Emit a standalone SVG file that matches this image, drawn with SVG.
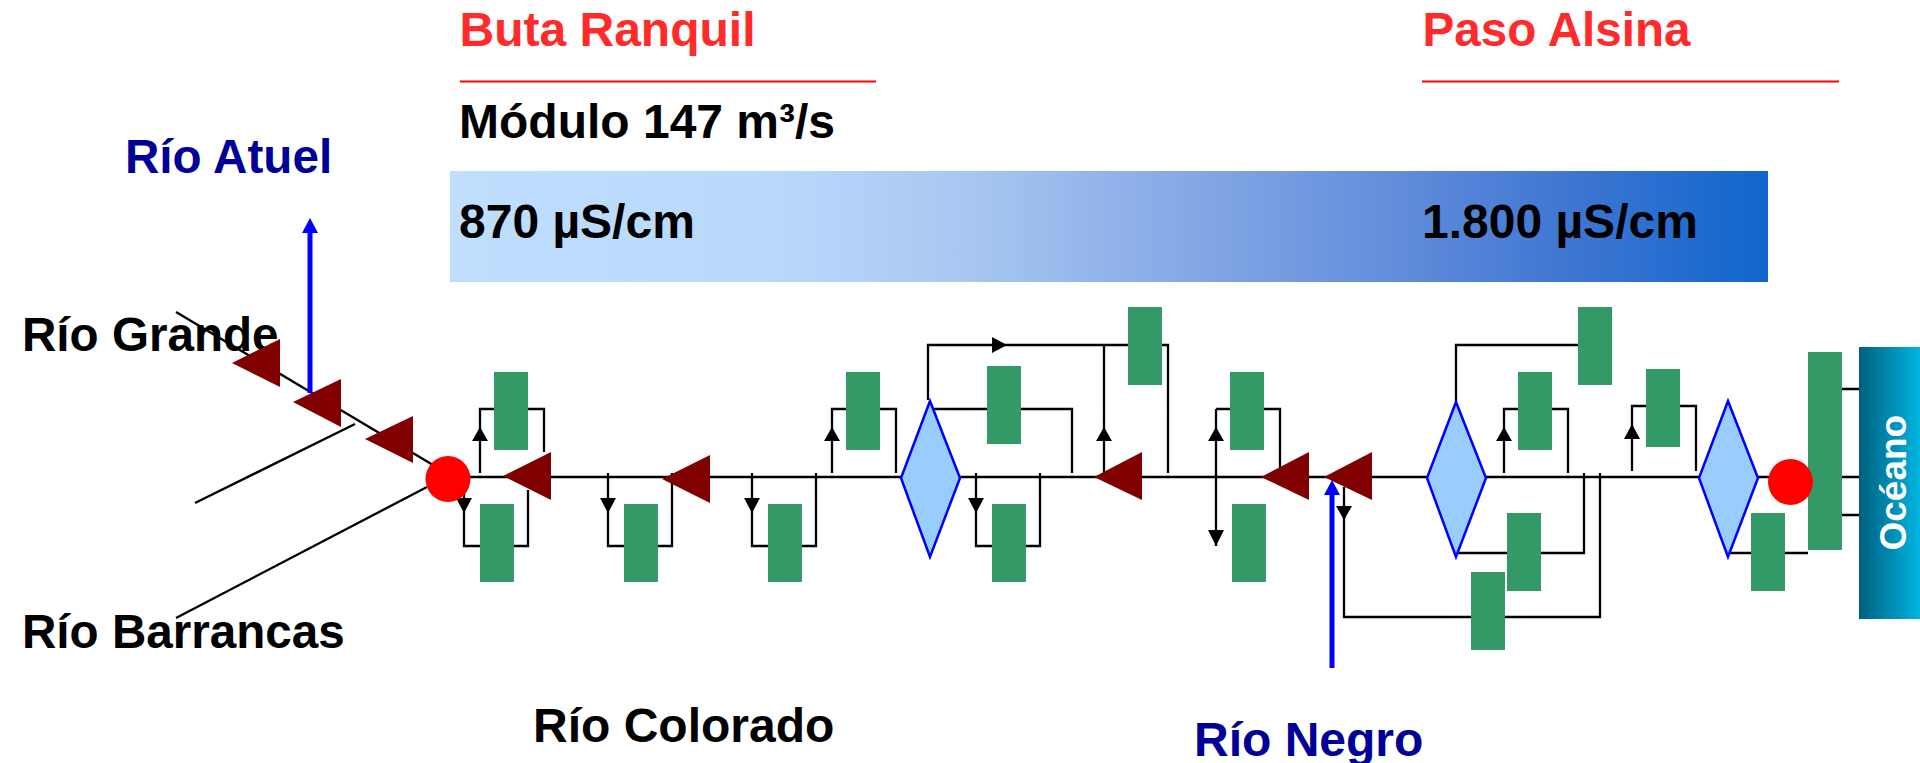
<svg xmlns="http://www.w3.org/2000/svg" width="1920" height="763" viewBox="0 0 1920 763">
<style>
.t{font-family:"Liberation Sans",Arial,sans-serif;font-weight:700;font-size:48px;fill:#000}
.red{fill:#ff2a2a}
.navy{fill:#000099}
.c{fill:none;stroke:#000;stroke-width:2.3}
.b{fill:#339966}
.tri{fill:#800000}
.d{fill:#99ccff;stroke:#0000ff;stroke-width:2.5}
.ah{fill:#000}
</style>
<defs>
<linearGradient id="g1" x1="0" x2="1" y1="0" y2="0">
<stop offset="0" stop-color="#c0dfff"/>
<stop offset="0.25" stop-color="#b8d8fb"/>
<stop offset="0.4" stop-color="#a6c6f0"/>
<stop offset="0.55" stop-color="#88aae6"/>
<stop offset="0.7" stop-color="#6690dc"/>
<stop offset="0.85" stop-color="#3f76d2"/>
<stop offset="1" stop-color="#0f66cc"/>
</linearGradient>
<linearGradient id="g2" x1="0" x2="1" y1="0" y2="0">
<stop offset="0" stop-color="#006080"/>
<stop offset="1" stop-color="#00b4e0"/>
</linearGradient>
</defs>
<rect id="salinity" x="450" y="171" width="1318" height="111" fill="url(#g1)"/>
<g id="labels-back">
<text class="t" style="font-size:47.6px" x="22" y="351">Río Grande</text>
</g>
<g id="connectors">
<path class="c" d="M448 477H1808"/>
<path class="c" d="M176 312L433 465M195 503L355 424M176 618L427 487"/>
<path class="c" d="M480 473V409H544V452M464 490V546H528V490M608 473V546H672V473M752 473V546H816V473M832 473V409H896V473"/>
<path class="c" d="M928 400V345H1168V473M1104 345V477M934 409H1072V473M976 473V546H1040V473M1216 409V546M1216 409H1280V473"/>
<path class="c" d="M1344 487V617H1600V473M1456 402V345H1578M1457 553H1584V473M1504 473V409H1568V473M1632 471V406H1696V471M1729 553H1808M1842 389H1859M1842 477H1859M1842 515H1859"/>
<path d="M310 393V230" fill="none" stroke="#0000ff" stroke-width="5"/>
<path d="M1332 668V492" fill="none" stroke="#0000ff" stroke-width="5"/>
<path class="ah" d="M472 441L480 427L488 441ZM456 498H472L464 513ZM600 498H616L608 513ZM744 498H760L752 513ZM824 441L832 427L840 441ZM968 498H984L976 513ZM992 337L1007 345L992 353ZM1096 441L1104 427L1112 441ZM1208 441L1216 427L1224 441ZM1208 530H1224L1216 546ZM1336 506H1352L1344 520ZM1496 441L1504 427L1512 441ZM1624 439L1632 424L1640 439Z"/>
<path d="M302 233L310 218L318 233ZM1324 495L1332 480L1340 495Z" fill="#0000ff"/>
</g>
<g id="rios">
<polygon id="tri1" class="tri" points="232,363 280,339 280,387"/>
<polygon id="tri2" class="tri" points="293,402 341,379 341,427"/>
<polygon id="tri3" class="tri" points="365,439 413,416 413,463"/>
<polygon id="tri4" class="tri" points="503,476 551,452 551,500"/>
<polygon id="tri5" class="tri" points="662,479 710,455 710,503"/>
<polygon id="tri6" class="tri" points="1094,477 1142,452 1142,500"/>
<polygon id="tri7" class="tri" points="1261,477 1309,452 1309,500"/>
<polygon id="tri8" class="tri" points="1324,477 1372,452 1372,500"/>
</g>
<g id="boxes">
<rect id="b1" class="b" x="494" y="372" width="34" height="78"/>
<rect id="b2" class="b" x="480" y="504" width="34" height="78"/>
<rect id="b3" class="b" x="624" y="504" width="34" height="78"/>
<rect id="b4" class="b" x="768" y="504" width="34" height="78"/>
<rect id="b5" class="b" x="846" y="372" width="34" height="78"/>
<rect id="b6" class="b" x="987" y="366" width="34" height="78"/>
<rect id="b7" class="b" x="1128" y="307" width="34" height="78"/>
<rect id="b8" class="b" x="992" y="504" width="34" height="78"/>
<rect id="b9" class="b" x="1230" y="372" width="34" height="78"/>
<rect id="b10" class="b" x="1232" y="504" width="34" height="78"/>
<rect id="b11" class="b" x="1471" y="572" width="34" height="78"/>
<rect id="b12" class="b" x="1507" y="513" width="34" height="78"/>
<rect id="b13" class="b" x="1578" y="307" width="34" height="78"/>
<rect id="b14" class="b" x="1518" y="372" width="34" height="78"/>
<rect id="b15" class="b" x="1646" y="369" width="34" height="78"/>
<rect id="b16" class="b" x="1751" y="513" width="34" height="78"/>
<rect id="b17" class="b" x="1808" y="352" width="34" height="198"/>
</g>
<polygon id="d1" class="d" points="930,401 960,478 930,557 901,478"/>
<polygon id="d2" class="d" points="1456,402 1486,478 1456,557 1427,478"/>
<polygon id="d3" class="d" points="1728,401 1758,478 1728,557 1699,478"/>
<ellipse id="n1" cx="448" cy="479" rx="22.5" ry="23" fill="#ff0000"/>
<ellipse id="n2" cx="1790.5" cy="482" rx="22.5" ry="23" fill="#ff0000"/>
<g id="oceano">
<rect x="1859" y="347" width="61" height="272" fill="url(#g2)"/>
<text class="t" transform="translate(1906 550.5) rotate(-90)" style="fill:#fff;font-size:37px">Océano</text>
</g>
<g id="labels">
<text class="t red" x="459.5" y="46">Buta Ranquil</text>
<text class="t red" style="font-size:47.6px" x="1422.5" y="46">Paso Alsina</text>
<path d="M460 81.5H876M1422 81.5H1839" stroke="#ff0000" stroke-width="2" fill="none"/>
<text class="t" x="459" y="138">Módulo 147 m³/s</text>
<text class="t" x="459" y="238">870 µS/cm</text>
<text class="t" x="1422" y="238">1.800 µS/cm</text>
<text class="t navy" style="font-size:47.6px" x="125" y="172.5">Río Atuel</text>
<text class="t" style="font-size:47.6px" x="22" y="648">Río Barrancas</text>
<text class="t" x="533" y="741.5">Río Colorado</text>
<text class="t navy" x="1194" y="756">Río Negro</text>
</g>
</svg>
